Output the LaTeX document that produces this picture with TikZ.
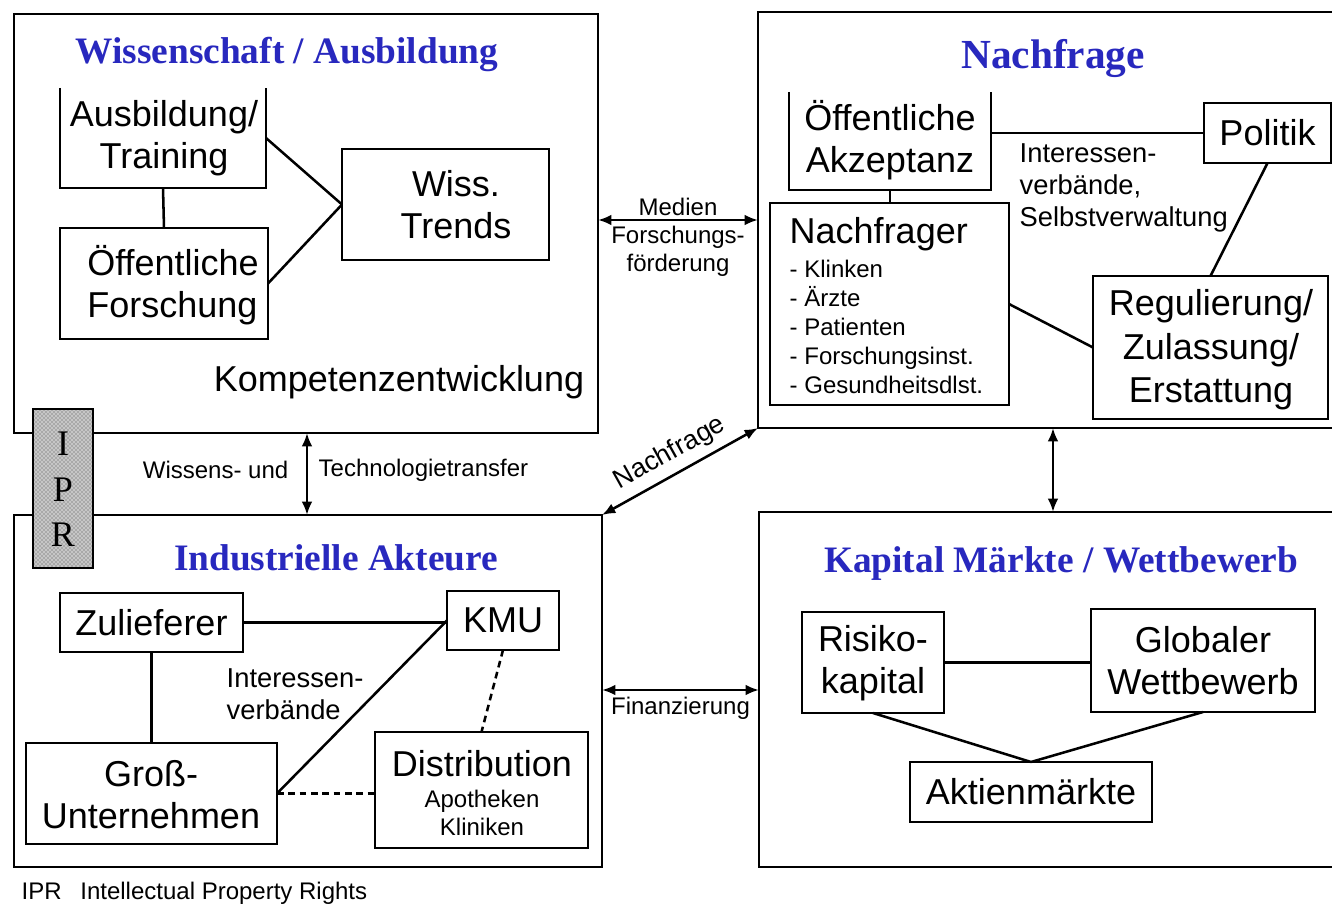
\documentclass[tikz,border=0pt]{standalone}
\usepackage{fontspec}
\setmainfont{Liberation Sans}
\newfontfamily\serifttl{Liberation Serif}
\usetikzlibrary{arrows.meta,fit,patterns,calc}
\definecolor{tblue}{RGB}{40,40,190}
\begin{document}
\begin{tikzpicture}[x=0.75pt,y=-0.75pt,
  box/.style={draw,line width=2.2pt,inner sep=0pt,outer sep=0pt},
  obox/.style={inner sep=0pt,outer sep=0pt},
  boxline/.style={line width=2.2pt},
  big/.style={font=\fontsize{27}{31.5}\selectfont,align=center},
  mid/.style={font=\fontsize{18}{21.6}\selectfont},
  ann/.style={font=\fontsize{20.5}{24}\selectfont,align=left},
  ttl/.style={font=\serifttl\bfseries\fontsize{28}{32}\selectfont,text=tblue},
  conn/.style={line width=1.9pt},
  dbl/.style={conn,{Latex[length=10pt,width=8pt]}-{Latex[length=10pt,width=8pt]}},
  dashconn/.style={conn,dash pattern=on 5pt off 3.5pt},
]
\useasboundingbox (0,0) rectangle (1332,906);
\clip (0,0) rectangle (1332,906);
\coordinate (x307) at (307,0);
\coordinate (x1053) at (1053,0);

% ---------- Wissenschaft / Ausbildung ----------
\node[box,fit={(14,14)(598,433)}] (wiss) {};
\node[ttl] (wisst) at (287,54) {Wissenschaft / Ausbildung};
\node[obox,fit={(60,88)(266,188)}] (ausb) {};
\draw[boxline] (ausb.north west) -- (ausb.south west) -- (ausb.south east) -- (ausb.north east);
\node[big] (ausbt) at (164,138) {Ausbildung/\\Training};
\node[box,fit={(60,228)(268,339)}] (oefo) {};
\node[big,align=left] (oefot) at (173,285) {Öffentliche\\Forschung};
\node[box,fit={(342,149)(549,260)}] (trends) {};
\node[big] (trendst) at (456,205) {Wiss.\\Trends};
\node[big] (komp) at (399,382) {Kompetenzentwicklung};
\draw[conn] (ausb.south) -- (oefo.north);
\draw[conn] (ausb.east) -- (trends.west);
\draw[conn] (oefo.east) -- (trends.west);

% ---------- Nachfrage ----------
\node[box,fit={(758,12)(1345,428)}] (nach) {};
\node[ttl,font=\serifttl\bfseries\fontsize{31}{34}\selectfont] (nacht) at (1053,59) {Nachfrage};
\node[obox,fit={(789,92)(991,190)}] (akz) {};
\draw[boxline] (akz.north west) -- (akz.south west) -- (akz.south east) -- (akz.north east);
\node[big] (akzt) at (890,140) {Öffentliche\\Akzeptanz};
\node[box,fit={(1204,103)(1331,163)}] (pol) {};
\node[big] (polt) at (pol.center) {Politik};
\node[ann,anchor=west] (intv) at (1015,188) {Interessen-\\verbände,\\Selbstverwaltung};
\node[box,fit={(770,203)(1009,405)}] (nfr) {};
\node[big,anchor=west] (nfrt) at (785,234) {Nachfrager};
\node[mid,align=left,anchor=west] (nfrl) at (785,327) {- Klinken\\- Ärzte\\- Patienten\\- Forschungsinst.\\- Gesundheitsdlst.};
\node[box,fit={(1093,276)(1328,419)}] (reg) {};
\node[big,font=\fontsize{27}{32.5}\selectfont] (regt) at (1211,350) {Regulierung/\\Zulassung/\\Erstattung};
\draw[conn] (akz.south) -- (nfr.north -| akz.south);
\draw[conn] (akz.east |- pol.west) -- (pol.west);
\draw[conn] (pol.south) -- (reg.north);
\draw[conn] (nfr.east) -- (reg.west);

% ---------- Industrielle Akteure ----------
\node[box,fit={(14,515)(602,867)}] (ind) {};
\node[ttl] (indt) at (336,558) {Industrielle Akteure};
\node[box,fit={(60,593)(243,652)}] (zul) {};
\node[big] (zult) at (zul.center) {Zulieferer};
\node[box,fit={(447,591)(559,650)}] (kmu) {};
\node[big] (kmut) at (kmu.center) {KMU};
\node[box,fit={(26,743)(277,844)}] (gross) {};
\node[big] (grosst) at (151,795) {Groß-\\Unternehmen};
\node[box,fit={(375,732)(588,848)}] (dist) {};
\node[big] (distt) at (482,764) {Distribution};
\node[mid,align=center] (distl) at (482,813) {Apotheken\\Kliniken};
\node[ann,anchor=west] (intv2) at (222,694) {Interessen-\\verbände};
\draw[conn] (zul.east) -- (zul.east -| kmu.west);
\draw[conn] (zul.south) -- (zul.south |- gross.north);
\draw[conn] (gross.east) -- (kmu.west);
\draw[dashconn] (kmu.south) -- (dist.north);
\draw[dashconn] (gross.east) -- (gross.east -| dist.west);

% ---------- Kapital Maerkte / Wettbewerb ----------
\node[box,fit={(759,512)(1345,867)}] (kap) {};
\node[ttl] (kapt) at (1061,564) {Kapital Märkte / Wettbewerb};
\node[box,fit={(802,612)(944,713)}] (ris) {};
\node[big] (rist) at (873,663) {Risiko-\\kapital};
\node[box,fit={(1091,609)(1315,712)}] (glob) {};
\node[big] (globt) at (1203,661) {Globaler\\Wettbewerb};
\node[box,fit={(910,762)(1152,822)}] (akt) {};
\node[big] (aktt) at (akt.center) {Aktienmärkte};
\draw[conn] (ris.east) -- (ris.east -| glob.west);
\draw[conn] (ris.south) -- (akt.north);
\draw[conn] (glob.south) -- (akt.north);

% ---------- links between sections ----------
\draw[dbl] (wiss.east |- 0,220) -- (nach.west |- 0,220)
  node[midway,above=-1pt,mid] (medien) {Medien}
  node[midway,below=0pt,mid,align=center] (ffoe) {Forschungs-\\förderung};
\draw[dbl] (wiss.south -| x307) -- (ind.north -| x307);
\node[mid,anchor=east] (wut) at (293,470) {Wissens- und};
\node[mid,anchor=west] (tt) at (314,470) {Technologietransfer};
\draw[dbl] (ind.north east) -- (nach.south west)
  node[midway,above=2pt,sloped,font=\fontsize{20}{24}\selectfont] (nfl) {Nachfrage};
\draw[dbl] (nach.south -| x1053) -- (kap.north -| x1053);
\draw[dbl] (ind.east |- 0,690) -- (kap.west |- 0,690)
  node[midway,below=1pt,mid] (fin) {Finanzierung};

% ---------- IPR ----------
\node[draw,line width=1.8pt,inner sep=0pt,outer sep=0pt,
  preaction={fill=gray!45},pattern=crosshatch dots,pattern color=gray!60!black,
  fit={(33,409)(93,568)}] (ipr) {};
\node[font=\serifttl\fontsize{27}{30}\selectfont] (ipri) at (63,444) {I};
\node[font=\serifttl\fontsize{27}{30}\selectfont] (iprp) at (63,490) {P};
\node[font=\serifttl\fontsize{27}{30}\selectfont] (iprr) at (63,535) {R};

% ---------- footer ----------
\node[mid,anchor=west] (foot) at (17,893) {IPR\hspace{9pt} Intellectual Property Rights};
\end{tikzpicture}
\end{document}
